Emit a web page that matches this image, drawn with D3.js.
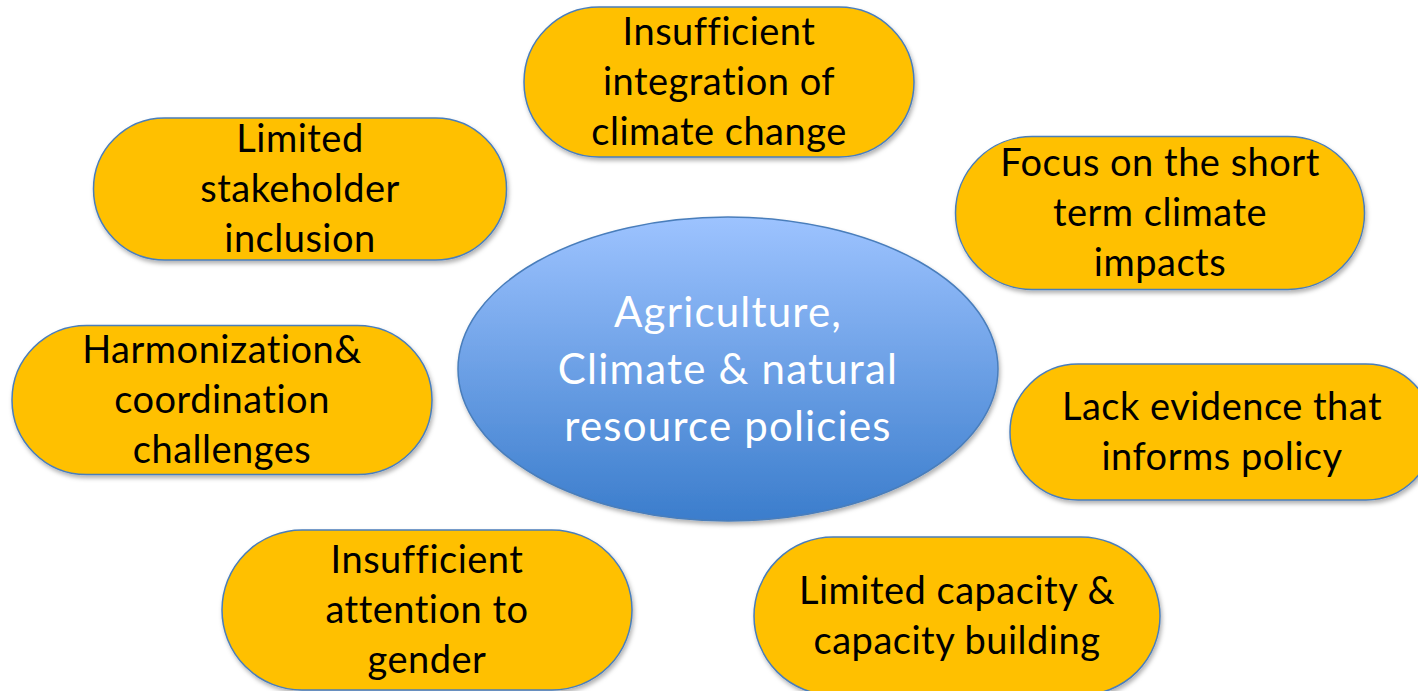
<!DOCTYPE html>
<html lang="en">
<head>
<meta charset="UTF-8">
<title>Agriculture, Climate & natural resource policies</title>
<style>
  body { margin: 0; background: #fff; }
  svg { display: block; }
</style>
</head>
<body>
<script src="https://d3js.org/d3.v7.min.js"></script>
<div id="chart"></div>
<script>
// centre topic
var centreLines = ["Agriculture,", "Climate & natural", "resource policies"];

// the challenges around it, one entry per pill
var challengeLines = [
    ["Insufficient", "integration of", "climate change"],
    ["Limited", "stakeholder", "inclusion"],
    ["Focus on the short", "term climate", "impacts"],
    ["Harmonization&", "coordination", "challenges"],
    ["Lack evidence that", "informs policy"],
    ["Insufficient", "attention to", "gender"],
    ["Limited capacity &", "capacity building"]
];

// layout of the pills (centre x, centre y, width, height)
var pillX = [719, 300, 1160, 222, 1222, 427, 957];
var pillY = [82, 189, 213, 400, 432, 610, 616];
var pillW = [390, 413, 409, 420, 424, 410, 406];
var pillH = [150, 142, 153, 149, 136, 160, 158];

var width = 1418, height = 691;
var lineGap = 50, centreGap = 57;

var svg = d3.select("#chart")
    .append("svg")
    .attr("width", width)
    .attr("height", height);

var defs = svg.append("defs");

var grad = defs.append("linearGradient")
    .attr("id", "blueGrad")
    .attr("x1", 0).attr("y1", 0)
    .attr("x2", 0).attr("y2", 1);
grad.append("stop").attr("offset", "0%").attr("stop-color", "#9dc3ff");
grad.append("stop").attr("offset", "100%").attr("stop-color", "#3b7dcc");

var shadow = defs.append("filter")
    .attr("id", "shadow")
    .attr("x", "-10%").attr("y", "-10%")
    .attr("width", "130%").attr("height", "130%");
shadow.append("feDropShadow")
    .attr("dx", 1.5).attr("dy", 3)
    .attr("stdDeviation", 2)
    .attr("flood-color", "#000")
    .attr("flood-opacity", 0.3);

// central ellipse
var centre = svg.append("g").attr("transform", "translate(728,369)");
centre.append("ellipse")
    .attr("rx", 270)
    .attr("ry", 152)
    .style("fill", "url(#blueGrad)")
    .style("stroke", "#4a7ebb")
    .style("stroke-width", 1.5)
    .style("filter", "url(#shadow)");

centre.selectAll("text")
    .data(centreLines)
    .enter()
    .append("text")
    .attr("x", 0)
    .attr("y", function(d, i) { return (i - (centreLines.length - 1) / 2) * centreGap; })
    .attr("dy", "0.35em")
    .attr("text-anchor", "middle")
    .style("font-family", "Lato, 'Open Sans', sans-serif")
    .style("font-size", "42px")
    .style("letter-spacing", "1.2px")
    .style("fill", "#fff")
    .text(function(d) { return d; });

// pills
var pills = svg.selectAll("g.pill")
    .data(challengeLines)
    .enter()
    .append("g")
    .attr("class", "pill")
    .attr("transform", function(d, i) { return "translate(" + pillX[i] + "," + pillY[i] + ")"; });

pills.append("rect")
    .attr("x", function(d, i) { return -pillW[i] / 2; })
    .attr("y", function(d, i) { return -pillH[i] / 2; })
    .attr("width", function(d, i) { return pillW[i]; })
    .attr("height", function(d, i) { return pillH[i]; })
    .attr("rx", function(d, i) { return pillH[i] / 2; })
    .attr("ry", function(d, i) { return pillH[i] / 2; })
    .style("fill", "#ffc000")
    .style("stroke", "#4a7ebb")
    .style("stroke-width", 1.5)
    .style("filter", "url(#shadow)");

pills.each(function(lines) {
    d3.select(this).selectAll("text")
        .data(lines)
        .enter()
        .append("text")
        .attr("x", 0)
        .attr("y", function(d, i) { return (i - (lines.length - 1) / 2) * lineGap; })
        .attr("dy", "0.35em")
        .attr("text-anchor", "middle")
        .style("font-family", "Lato, 'Open Sans', sans-serif")
        .style("font-size", "38px")
        .style("letter-spacing", "0.5px")
        .style("fill", "#000")
        .text(function(d) { return d; });
});
</script>
</body>
</html>
